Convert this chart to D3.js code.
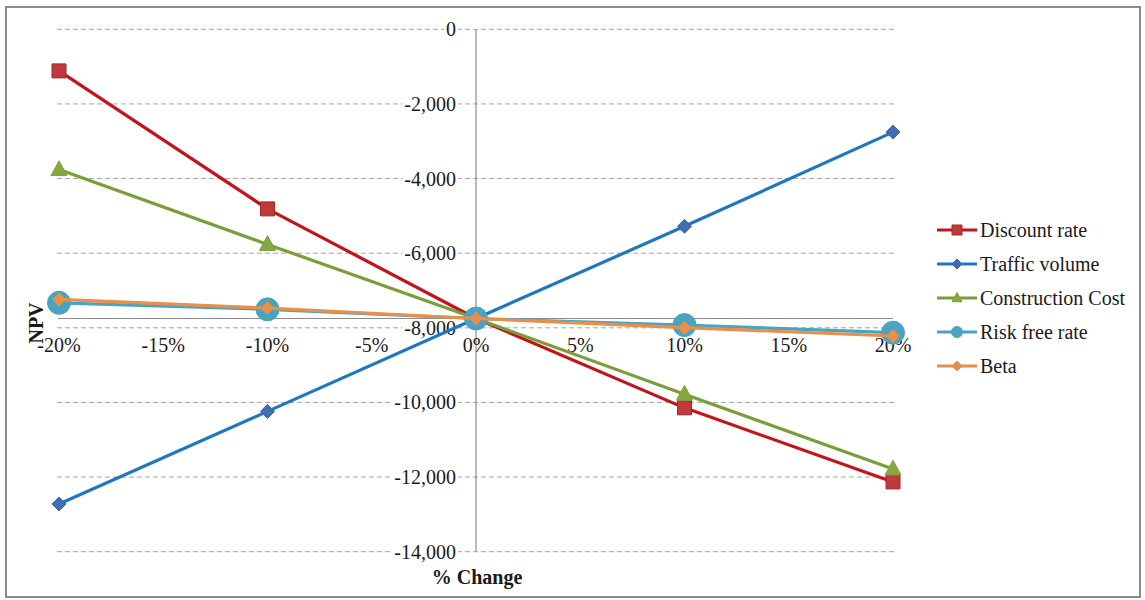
<!DOCTYPE html>
<html>
<head>
<meta charset="utf-8">
<script src="https://cdn.jsdelivr.net/npm/d3@7"></script>
<style>
  html, body { margin: 0; padding: 0; background: #fff; }
  svg { display: block; }
  svg text { font-family: "Liberation Serif", serif; }
</style>
</head>
<body>
<svg id="chart" width="1145" height="600"></svg>
<script>
// Sensitivity of NPV to a ±20% change in each input
const changes = [-0.20, -0.10, 0, 0.10, 0.20];
const discountRate     = [-1115, -4813, -7750, -10145, -12130];
const trafficVolume    = [-12720, -10240, -7750, -5280, -2755];
const constructionCost = [-3760, -5765, -7750, -9780, -11785];
const riskFreeRate     = [-7330, -7505, -7750, -7925, -8130];
const beta             = [-7240, -7470, -7750, -7995, -8220];
const baseNPV = -7750;

const seriesNames = ["Discount rate", "Traffic volume", "Construction Cost", "Risk free rate", "Beta"];
const xTicks = [-0.20, -0.15, -0.10, -0.05, 0, 0.05, 0.10, 0.15, 0.20];
const yTicks = [0, -2000, -4000, -6000, -8000, -10000, -12000, -14000];

const series = [
  { name: seriesNames[0], values: discountRate,     line: "#c0151c", fill: "#c0393b", stroke: "#a02a2a", shape: "square",   size: 7 },
  { name: seriesNames[1], values: trafficVolume,    line: "#1f78bf", fill: "#3f6fb0", stroke: "#3a66a5", shape: "diamond",  size: 7 },
  { name: seriesNames[2], values: constructionCost, line: "#7a9e3a", fill: "#86a83e", stroke: "#7a9e3a", shape: "triangle", size: 8 },
  { name: seriesNames[3], values: riskFreeRate,     line: "#4aa3bf", fill: "#4aa3bf", stroke: "#4aa3bf", shape: "circle",   size: 11.5 },
  { name: seriesNames[4], values: beta,             line: "#e8904a", fill: "#e8904a", stroke: "#e8904a", shape: "diamond",  size: 6.5 }
];

// plain hyphen for negative numbers, as in the spreadsheet labels
const locale = d3.formatLocale({ decimal: ".", thousands: ",", grouping: [3], currency: ["", ""], minus: "-" });
const fmtNum = locale.format(",");
const fmtPct = locale.format(".0%");

const svg = d3.select("#chart");

// outer chart border
svg.append("rect")
  .attr("x", 6).attr("y", 7).attr("width", 1134).attr("height", 590)
  .attr("fill", "#fff").attr("stroke", "#8c8c8c").attr("stroke-width", 2);

const x = d3.scaleLinear().domain([-0.20, 0.20]).range([59, 893]);
const y = d3.scaleLinear().domain([-14000, 0]).range([551.7, 29.3]);

// dashed horizontal gridlines
svg.append("g").selectAll("line").data(yTicks).join("line")
  .attr("x1", 57).attr("x2", 896)
  .attr("y1", d => y(d)).attr("y2", d => y(d))
  .attr("stroke", "#a6a6a6").attr("stroke-width", 1)
  .attr("stroke-dasharray", "5,3");

// vertical value axis through 0%
svg.append("line")
  .attr("x1", x(0)).attr("x2", x(0))
  .attr("y1", y(0)).attr("y2", y(-14000))
  .attr("stroke", "#8c8c8c").attr("stroke-width", 1.2);

// horizontal axis crossing at the base-case NPV
svg.append("line")
  .attr("x1", x(-0.20) - 1).attr("x2", x(0.20))
  .attr("y1", y(baseNPV)).attr("y2", y(baseNPV))
  .attr("stroke", "#8c8c8c").attr("stroke-width", 1.2);

// y tick labels with a white backing so gridlines break around them
const yl = svg.append("g").selectAll("g").data(yTicks).join("g")
  .attr("transform", d => `translate(456,${y(d)})`);
yl.append("text")
  .attr("text-anchor", "end").attr("dominant-baseline", "central")
  .attr("font-size", 20).attr("fill", "#1a1a1a")
  .text(d => fmtNum(d));
yl.each(function() {
  const t = d3.select(this).select("text").node().getBBox();
  d3.select(this).insert("rect", "text")
    .attr("x", t.x - 2).attr("y", -3).attr("width", t.width + 4).attr("height", 6)
    .attr("fill", "#fff");
});

// x tick labels
svg.append("g").selectAll("text").data(xTicks).join("text")
  .attr("x", d => x(d)).attr("y", 345)
  .attr("text-anchor", "middle").attr("dominant-baseline", "central")
  .attr("font-size", 20).attr("fill", "#1a1a1a")
  .text(d => fmtPct(d));

// axis titles
svg.append("text")
  .attr("transform", "translate(36,323) rotate(-90)")
  .attr("text-anchor", "middle").attr("dominant-baseline", "central")
  .attr("font-size", 20).attr("font-weight", "bold").attr("fill", "#1a1a1a")
  .text("NPV");
svg.append("text")
  .attr("x", 477).attr("y", 577)
  .attr("text-anchor", "middle").attr("dominant-baseline", "central")
  .attr("font-size", 20).attr("font-weight", "bold").attr("fill", "#1a1a1a")
  .text("% Change");

// marker shapes
function markerPath(shape, s) {
  if (shape === "square") return `M${-s},${-s}H${s}V${s}H${-s}Z`;
  if (shape === "diamond") return `M0,${-s}L${s},0L0,${s}L${-s},0Z`;
  if (shape === "triangle") return `M0,${-s * 1.1}L${s},${s * 0.75}L${-s},${s * 0.75}Z`;
  return d3.arc()({ innerRadius: 0, outerRadius: s, startAngle: 0, endAngle: 2 * Math.PI });
}

const line = d3.line().x((d, i) => x(changes[i])).y(d => y(d));

const plot = svg.append("g");
series.forEach(s => {
  const g = plot.append("g");
  g.append("path")
    .attr("d", line(s.values))
    .attr("fill", "none").attr("stroke", s.line).attr("stroke-width", 3.2)
    .attr("stroke-linejoin", "round");
  g.selectAll("path.m").data(s.values).join("path")
    .attr("class", "m")
    .attr("transform", (d, i) => `translate(${x(changes[i])},${y(d)})`)
    .attr("d", markerPath(s.shape, s.size))
    .attr("fill", s.fill).attr("stroke", s.stroke).attr("stroke-width", 1);
});

// legend
const legend = svg.append("g");
series.forEach((s, i) => {
  const ly = 230 + i * 34;
  legend.append("line")
    .attr("x1", 937).attr("x2", 977).attr("y1", ly).attr("y2", ly)
    .attr("stroke", s.line).attr("stroke-width", 3.2);
  legend.append("path")
    .attr("transform", `translate(957,${ly})`)
    .attr("d", markerPath(s.shape, s.shape === "circle" ? 5.5 : 5))
    .attr("fill", s.fill).attr("stroke", s.stroke).attr("stroke-width", 1);
  legend.append("text")
    .attr("x", 980).attr("y", ly)
    .attr("dominant-baseline", "central")
    .attr("font-size", 20).attr("fill", "#1a1a1a")
    .text(s.name);
});
</script>
</body>
</html>
